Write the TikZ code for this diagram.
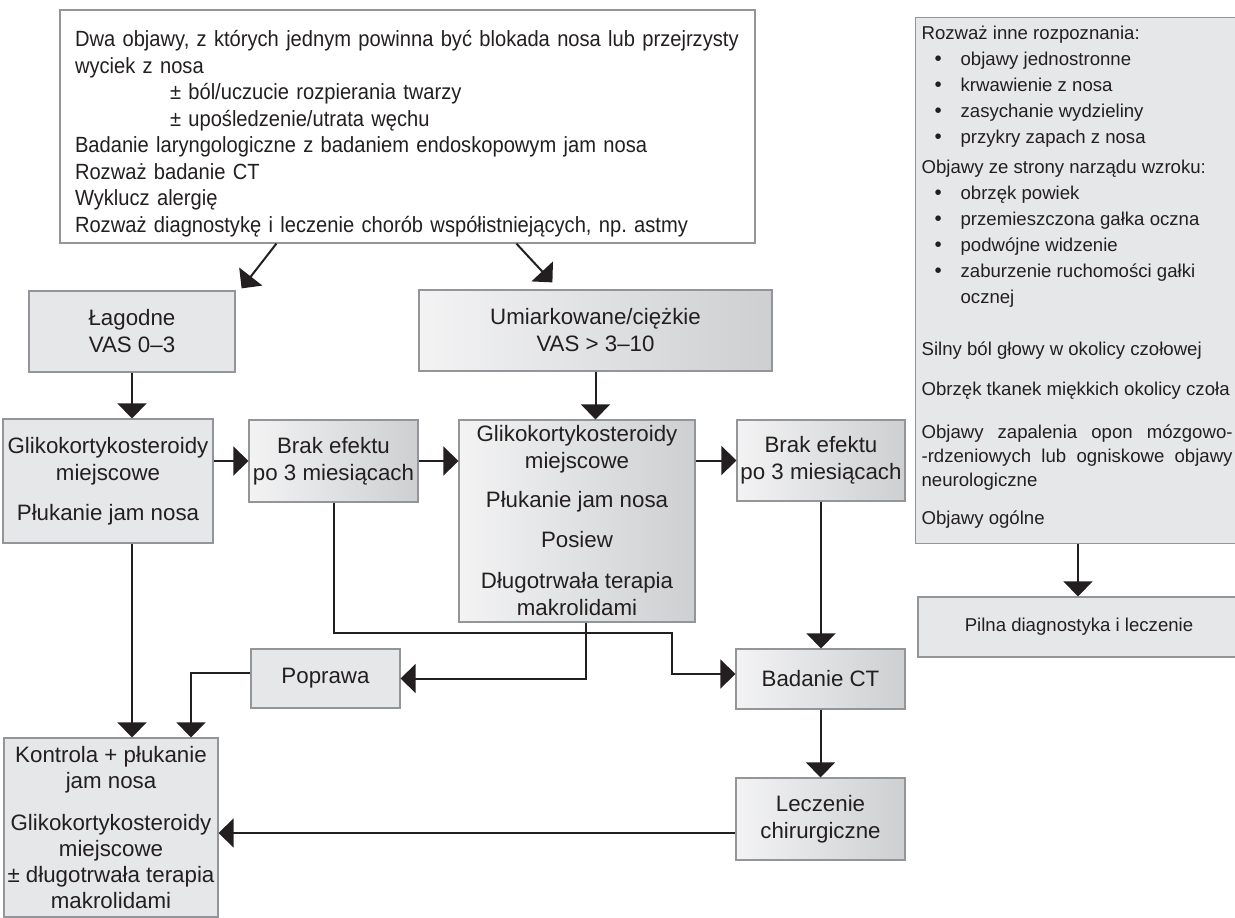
\documentclass[tikz,border=0pt]{standalone}
\usepackage{fontspec}
\setmainfont{Liberation Sans}
\newfontfamily\topfont{Liberation Sans}[FakeStretch=0.915]
\usetikzlibrary{arrows.meta,calc}
\definecolor{ink}{HTML}{231F20}
\definecolor{bord}{HTML}{939598}
\definecolor{flat}{HTML}{E6E7E8}
\definecolor{gl}{HTML}{F3F3F4}
\definecolor{gr}{HTML}{CDCFD1}
\newcommand\fmain{\fontsize{22.3pt}{27pt}\selectfont}
\newcommand\fkon{\fontsize{22.3pt}{26pt}\selectfont}
\newcommand\ftop{\topfont\fontsize{22pt}{26.5pt}\selectfont}
\newcommand\fright{\fontsize{18.6pt}{26pt}\selectfont}
\newcommand\bul{\hspace*{13pt}\makebox[26pt][l]{\raisebox{0.3pt}{\scalebox{1.1}{•}}}}
\frenchspacing
\begin{document}
\begin{tikzpicture}[x=1pt,y=-1pt,
  box/.style={draw=bord, line width=1.2pt, fill=flat, inner sep=0pt, align=center, text=ink, font=\fmain},
  gbox/.style={box, left color=gl, right color=gr},
  arr/.style={draw=ink, line width=2pt, -{Triangle[width=29pt,length=15pt]}}]
\useasboundingbox (0,0) rectangle (1235,918);
\clip (0,0) rectangle (1235,918);

% top box
\node[box, fill=white, minimum width=695pt, minimum height=233pt, text width=665pt, align=left, font=\ftop] (top) at (407.5,126.5)
{\rule{0pt}{31pt}\mbox{Dwa objawy, z których jednym powinna być blokada nosa lub przejrzysty}\\
wyciek z nosa\\
\hspace*{95pt}± ból/uczucie rozpierania twarzy\\
\hspace*{95pt}± upośledzenie/utrata węchu\\
\mbox{Badanie laryngologiczne z badaniem endoskopowym jam nosa}\\
Rozważ badanie CT\\
Wyklucz alergię\\
\mbox{Rozważ diagnostykę i leczenie chorób współistniejących, np. astmy}};

% right box
\node[box, anchor=north west, inner xsep=6pt, inner ysep=0pt, font=\fright, align=left] (diff) at (915,17)
{\parbox[c][526pt][t]{311pt}{\raggedright\vspace*{4pt}\strut Rozważ inne rozpoznania:\\
\bul objawy jednostronne\\
\bul krwawienie z nosa\\
\bul zasychanie wydzieliny\\
\bul przykry zapach z nosa\\[4pt]
Objawy ze strony narządu wzroku:\\
\bul obrzęk powiek\\
\bul przemieszczona gałka oczna\\
\bul podwójne widzenie\\
\bul zaburzenie ruchomości gałki\\
\hspace*{39pt}ocznej\\[26pt]
Silny ból głowy w okolicy czołowej\\[14pt]
Obrzęk tkanek miękkich okolicy czoła\\[17pt]
\makebox[\linewidth][s]{Objawy zapalenia opon mózgowo-}\\[-2pt]
\makebox[\linewidth][s]{-rdzeniowych lub ogniskowe objawy}\\[-2pt]
neurologiczne\\[12pt]
Objawy ogólne}};
\node[box, font=\fright, minimum width=322pt, minimum height=60pt] (pil) at (1079,627) {Pilna diagnostyka i leczenie};

% flow boxes
\node[box, minimum width=206pt, minimum height=81pt] (lag) at (132,331.5) {Łagodne\\VAS 0–3};
\node[gbox, minimum width=353pt, minimum height=81pt] (umi) at (595.5,330.5) {Umiarkowane/ciężkie\\VAS > 3–10};
\node[box, minimum width=210pt, minimum height=124pt] (g1) at (108,481) {Glikokortykosteroidy\\miejscowe\\[13pt]Płukanie jam nosa};
\node[gbox, minimum width=169pt, minimum height=82pt] (b1) at (333.5,461) {Brak efektu\\po 3 miesiącach};
\node[gbox, minimum width=236pt, minimum height=202pt] (mid) at (577,521) {Glikokortykosteroidy\\miejscowe\\[12pt]Płukanie jam nosa\\[13pt]Posiew\\[14pt]Długotrwała terapia\\makrolidami};
\node[gbox, minimum width=168pt, minimum height=81pt] (b2) at (821,460.5) {Brak efektu\\po 3 miesiącach};
\node[box, minimum width=149pt, minimum height=59pt] (pop) at (325.5,678.5) {Poprawa};
\node[gbox, minimum width=169pt, minimum height=60pt] (ct) at (820.5,679) {Badanie CT};
\node[gbox, minimum width=169pt, minimum height=82pt] (lec) at (820.5,819) {Leczenie\\chirurgiczne};
\node[box, font=\fkon, minimum width=214pt, minimum height=179pt] (kon) at (111,827.5) {Kontrola + płukanie\\jam nosa\\[16pt]Glikokortykosteroidy\\miejscowe\\± długotrwała terapia\\makrolidami};

% connectors
\draw[arr] ($(top.south west)+(217,0)$) -- ($(lag.north east)+(6,-2)$);
\draw[arr] ($(top.south west)+(457,0)$) -- ($(umi.north west)+(134,-7)$);
\draw[arr] (lag.south) -- (lag.south |- g1.north);
\draw[arr] (umi.south) -- (umi.south |- mid.north);
\draw[arr] (g1.east |- b1.west) -- (b1.west);
\draw[arr] (b1.east) -- (b1.east -| mid.west);
\draw[arr] (mid.east |- b2.west) -- (b2.west);
\draw[arr] (b2.south) -- (b2.south |- ct.north);
\coordinate (j1) at (672,633);
\draw[arr] (b1.south) |- (j1) |- ($(ct.west)+(0,-5)$);
\draw[arr] ($(mid.south)+(8.5,0)$) |- (pop.east);
\draw[arr] ($(pop.west)+(0,-5.5)$) -| ($(kon.north)+(80,0)$);
\draw[arr] (lag.south |- g1.south) -- (lag.south |- kon.north);
\draw[arr] (ct.south) -- (ct.south |- lec.north);
\coordinate (l14) at ($(lec.west)+(0,14)$);
\draw[arr] (l14) -- (l14 -| kon.east);
\coordinate (d15) at ($(diff.south west)+(163,0)$);
\draw[arr] (d15) -- (d15 |- pil.north);
\end{tikzpicture}
\end{document}
